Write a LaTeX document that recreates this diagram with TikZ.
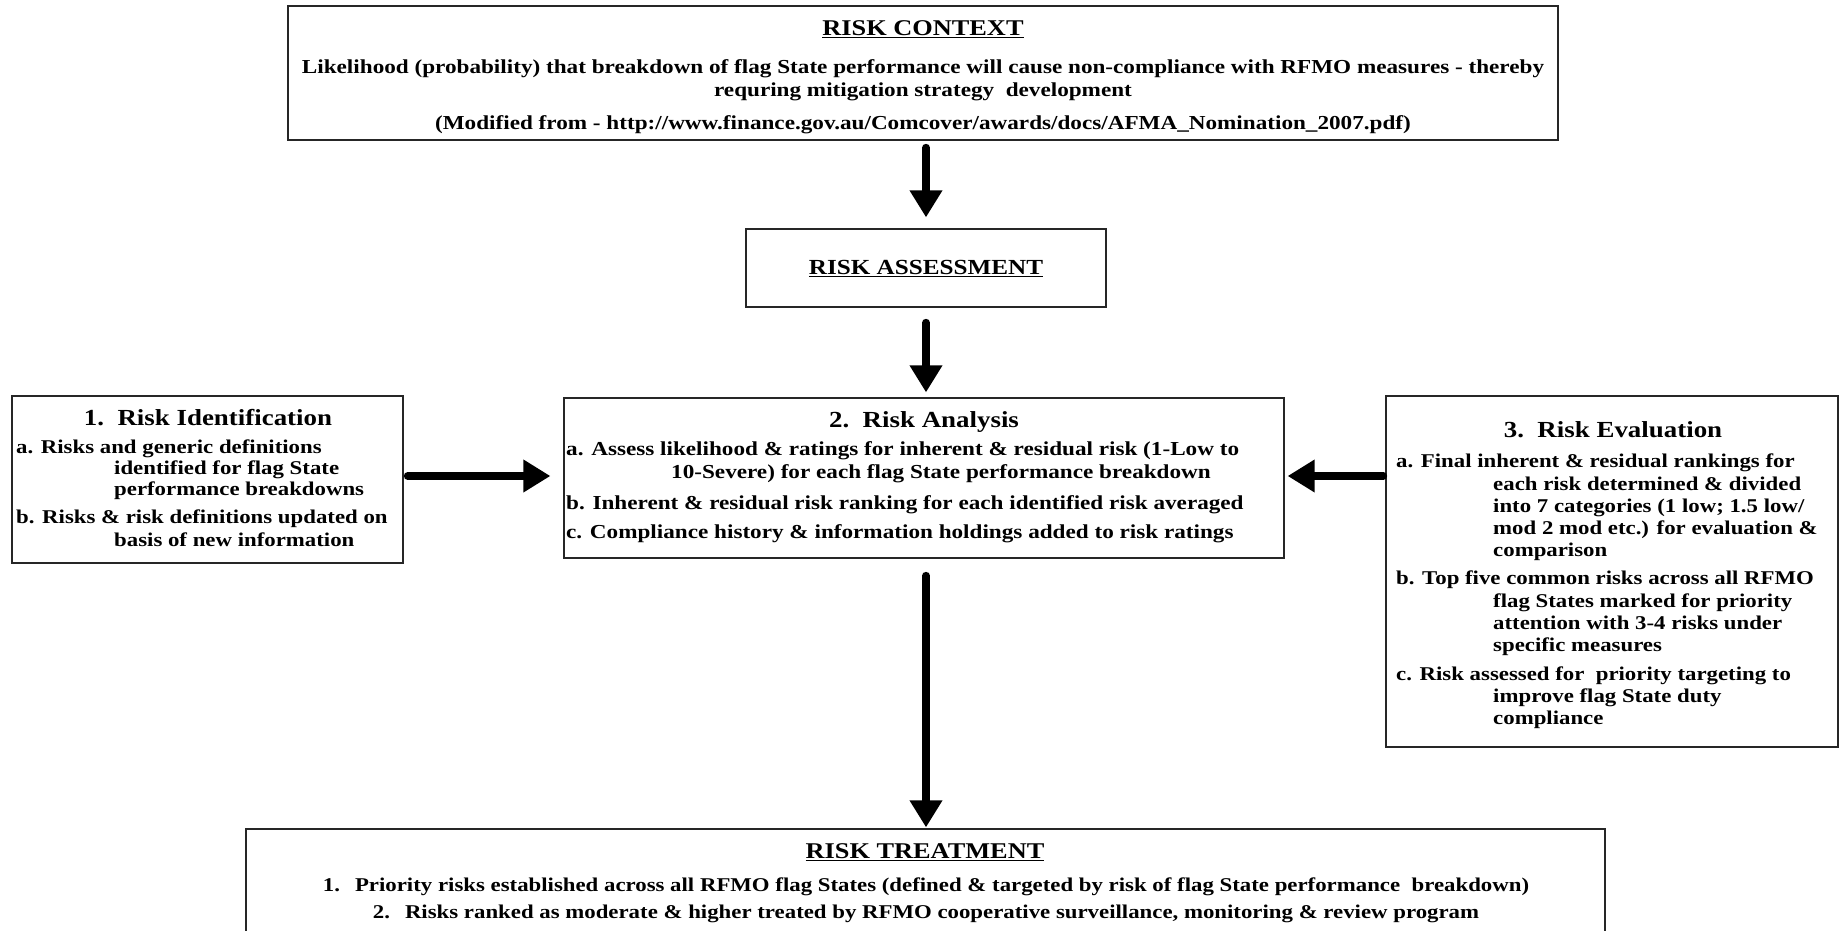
\documentclass[tikz,border=0pt]{standalone}
\usepackage{fontspec}
\setmainfont{Liberation Serif}[FakeStretch=1.17]
\usetikzlibrary{arrows.meta}
\begin{document}
\begin{tikzpicture}[x=1pt,y=-1pt,
  box/.style={draw=black!85, line width=1.2pt, inner sep=0pt},
  txt/.style={inner sep=0pt, font=\bfseries\fontsize{19.5}{23}\selectfont},
  lt/.style={txt, anchor=mid west},
  ct/.style={txt, anchor=mid},
  bigtxt/.style={font=\bfseries\fontsize{19.8}{23}\selectfont},
  ttl/.style={inner sep=0pt, anchor=mid, font=\bfseries\fontsize{23}{27}\selectfont},
  hdr/.style={inner sep=0pt, anchor=mid, font=\bfseries\fontsize{22.5}{26}\selectfont},
  bigarrow/.style={line width=7.5pt, line cap=round, -{Triangle[length=27pt,width=31pt]}}
]
\useasboundingbox (0,0) rectangle (1839,931);
\fill[white] (0,0) rectangle (1839,931);

% boxes
\node[box, minimum width=1270pt, minimum height=134pt] (ctx) at (923,73) {};
\node[box, minimum width=360pt, minimum height=78pt] (ass) at (926,268) {};
\node[box, minimum width=720pt, minimum height=160pt] (an) at (924,478) {};
\node[box, minimum width=391pt, minimum height=167pt] (id) at (207.5,479.5) {};
\node[box, minimum width=452pt, minimum height=351pt] (ev) at (1612,571.5) {};
\node[box, minimum width=1359pt, minimum height=140pt] (tr) at (925.5,899) {};

% context
\node[hdr] (ctxt) at (923,33) {\underline{RISK CONTEXT}};
\node[ct, bigtxt] (ctx1) at (923,71) {Likelihood (probability) that breakdown of flag State performance will cause non-compliance with RFMO measures - thereby};
\node[ct, bigtxt] (ctx2) at (923,94) {requring mitigation strategy\ \ development};
\node[ct, bigtxt] (ctx3) at (923,127) {(Modified from - http://www.finance.gov.au/Comcover/awards/docs/AFMA\_Nomination\_2007.pdf)};

% assessment
\node[hdr, font=\bfseries\fontsize{21.5}{25}\selectfont] (asst) at (926,272) {\underline{RISK ASSESSMENT}};

% analysis
\node[ttl] (ant) at (924,425) {2.\ \ Risk Analysis};
\node[lt, bigtxt] (ana) at (566,453) {a. Assess likelihood \& ratings for inherent \& residual risk (1-Low to};
\node[lt, bigtxt] (ana2) at (671,476) {10-Severe) for each flag State performance breakdown};
\node[lt, bigtxt] (anb) at (566,507) {b. Inherent \& residual risk ranking for each identified risk averaged};
\node[lt, bigtxt] (anc) at (566,536) {c. Compliance history \& information holdings added to risk ratings};

% identification
\node[ttl] (idt) at (208,423) {1.\ \ Risk Identification};
\node[lt] (ida) at (16,451) {a. Risks and generic definitions};
\node[lt] (ida2) at (114,472) {identified for flag State};
\node[lt] (ida3) at (114,493) {performance breakdowns};
\node[lt] (idb) at (16,521) {b. Risks \& risk definitions updated on};
\node[lt] (idb2) at (114,544) {basis of new information};

% evaluation
\node[ttl] (evt) at (1613,435) {3.\ \ Risk Evaluation};
\node[lt] (eva) at (1396,465) {a. Final inherent \& residual rankings for};
\node[lt] (eva2) at (1493,488) {each risk determined \& divided};
\node[lt] (eva3) at (1493,510) {into 7 categories (1 low; 1.5 low/};
\node[lt] (eva4) at (1493,532) {mod 2 mod etc.) for evaluation \&};
\node[lt] (eva5) at (1493,554) {comparison};
\node[lt] (evb) at (1396,582) {b. Top five common risks across all RFMO};
\node[lt] (evb2) at (1493,605) {flag States marked for priority};
\node[lt] (evb3) at (1493,627) {attention with 3-4 risks under};
\node[lt] (evb4) at (1493,649) {specific measures};
\node[lt] (evc) at (1396,678) {c. Risk assessed for\ \ priority targeting to};
\node[lt] (evc2) at (1493,700) {improve flag State duty};
\node[lt] (evc3) at (1493,722) {compliance};

% treatment
\node[hdr] (trt) at (925,856) {\underline{RISK TREATMENT}};
\node[ct] (tr1) at (926,889) {1.\hspace{15pt}Priority risks established across all RFMO flag States (defined \& targeted by risk of flag State performance\ \ breakdown)};
\node[ct] (tr2) at (926,916) {2.\hspace{15pt}Risks ranked as moderate \& higher treated by RFMO cooperative surveillance, monitoring \& review program};

% connectors
\coordinate (midrow) at (0,476);
\draw[bigarrow, shorten <=7pt, shorten >=11pt] (ctx.south -| ass.north) -- (ass.north);
\draw[bigarrow, shorten <=15pt, shorten >=5pt] (ass.south) -- (ass.south |- an.north);
\draw[bigarrow, shorten <=17pt, shorten >=1pt] (ass.south |- an.south) -- (ass.south |- tr.north);
\draw[bigarrow, shorten <=4pt, shorten >=13pt] (id.east |- midrow) -- (an.west |- midrow);
\draw[bigarrow, shorten <=2pt, shorten >=3pt] (ev.west |- midrow) -- (an.east |- midrow);
\end{tikzpicture}
\end{document}
